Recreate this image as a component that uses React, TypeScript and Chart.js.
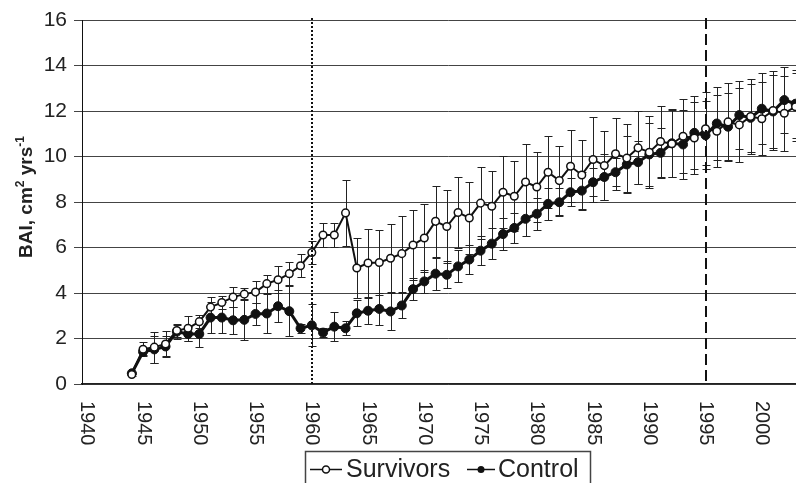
import React, { useEffect, useRef } from "react";
import { Chart, registerables } from "chart.js";
Chart.register(...registerables);

const years = [
  1944, 1945, 1946, 1947, 1948, 1949, 1950, 1951, 1952, 1953,
  1954, 1955, 1956, 1957, 1958, 1959, 1960, 1961, 1962, 1963,
  1964, 1965, 1966, 1967, 1968, 1969, 1970, 1971, 1972, 1973,
  1974, 1975, 1976, 1977, 1978, 1979, 1980, 1981, 1982, 1983,
  1984, 1985, 1986, 1987, 1988, 1989, 1990, 1991, 1992, 1993,
  1994, 1995, 1996, 1997, 1998, 1999, 2000, 2001, 2002, 2003,
];

const survivors = [
  0.42, 1.53, 1.62, 1.76, 2.35, 2.45, 2.74, 3.38, 3.58, 3.82,
  3.95, 4.04, 4.41, 4.58, 4.85, 5.2, 5.78, 6.55, 6.55, 7.52,
  5.1, 5.32, 5.34, 5.53, 5.73, 6.11, 6.42, 7.15, 6.92, 7.54,
  7.3, 7.95, 7.81, 8.43, 8.25, 8.88, 8.66, 9.31, 8.94, 9.57,
  9.19, 9.87, 9.6, 10.12, 9.93, 10.38, 10.19, 10.66, 10.56, 10.89,
  10.81, 11.22, 11.11, 11.52, 11.39, 11.76, 11.66, 12.02, 11.9, 12.19,
];

const survivorsErr = [
  0.05, 0.3, 0.68, 0.55, 0.3, 0.55, 0.3, 0.44, 0.3, 0.45,
  0.25, 0.5, 0.4, 0.6, 0.5, 0.5, 0.52, 0.53, 0.53, 1.44,
  1.33, 1.5, 1.42, 1.5, 1.67, 1.56, 1.5, 1.57, 1.6, 1.58,
  1.57, 1.57, 1.56, 1.58, 1.54, 1.65, 1.53, 1.59, 1.52, 1.59,
  1.53, 1.85, 1.51, 1.58, 1.49, 1.6, 1.59, 1.56, 1.48, 1.62,
  1.58, 1.61, 1.58, 1.69, 1.61, 1.64, 1.61, 1.72, 1.66, 1.5,
];

const control = [
  0.47, 1.42, 1.52, 1.65, 2.3, 2.2, 2.2, 2.92, 2.92, 2.8,
  2.82, 3.08, 3.1, 3.42, 3.2, 2.45, 2.58, 2.26, 2.52, 2.45,
  3.11, 3.22, 3.3, 3.19, 3.45, 4.17, 4.51, 4.85, 4.8, 5.17,
  5.47, 5.86, 6.17, 6.59, 6.86, 7.26, 7.48, 7.92, 7.99, 8.43,
  8.5, 8.87, 9.1, 9.31, 9.65, 9.75, 10.09, 10.16, 10.58, 10.53,
  11.04, 10.93, 11.45, 11.31, 11.82, 11.7, 12.1, 11.98, 12.48, 12.32,
];

const controlErr = [
  0.05, 0.15, 0.6, 0.47, 0.3, 0.31, 0.56, 0.7, 0.7, 0.6,
  0.9, 0.5, 0.85, 0.7, 1.1, 0.2, 0.92, 0.2, 0.63, 0.3,
  0.58, 0.58, 0.7, 0.8, 0.53, 0.49, 0.5, 0.7, 0.6, 0.7,
  0.65, 0.65, 0.68, 0.7, 0.66, 0.74, 0.7, 0.7, 0.62, 0.62,
  0.8, 0.62, 1.0, 0.62, 1.25, 0.94, 1.4, 1.1, 1.5, 1.5,
  1.6, 1.5, 1.6, 1.5, 1.5, 1.5, 1.55, 1.6, 1.45, 1.5,
];

const xTickLabels = ["1940", "1945", "1950", "1955", "1960", "1965", "1970", "1975", "1980", "1985", "1990", "1995", "2000"];
const seriesNames = ["Survivors", "Control"];
const dottedYear = 1960;
const dashedYear = 1995;
const yMin = 0;
const yMax = 16;
const yStep = 2;

const FONT = "'Liberation Sans', Arial, sans-serif";
const CANVAS_W = 820;
const CANVAS_H = 483;
const X_MIN = 1939.573;
const PX_PER_YEAR = 11.25;
const AREA_W = 732.5; // chart-area width for this canvas
const X_MAX = X_MIN + AREA_W / PX_PER_YEAR;

export default function App() {
  const ref = useRef<HTMLCanvasElement>(null);

  useEffect(() => {
    const canvas = ref.current;
    if (!canvas) return;

    const errorBars = {
      id: "errorBars",
      beforeDatasetsDraw(chart: any) {
        const ctx = chart.ctx;
        const ys = chart.scales.y;
        const errs = [survivorsErr, controlErr];
        ctx.save();
        ctx.strokeStyle = "#222";
        ctx.lineWidth = 1;
        chart.data.datasets.forEach((ds: any, i: number) => {
          const meta = chart.getDatasetMeta(i);
          meta.data.forEach((pt: any, j: number) => {
            const v = ds.data[j].y;
            const e = errs[i][j];
            const px = Math.round(pt.x) + 0.5;
            const top = Math.round(ys.getPixelForValue(v + e)) + 0.5;
            const bot = Math.round(ys.getPixelForValue(v - e)) + 0.5;
            ctx.beginPath();
            ctx.moveTo(px, top);
            ctx.lineTo(px, bot);
            ctx.moveTo(px - 4, top);
            ctx.lineTo(px + 4, top);
            ctx.moveTo(px - 4, bot);
            ctx.lineTo(px + 4, bot);
            ctx.stroke();
          });
        });
        ctx.restore();
      },
    };

    const overlay = {
      id: "overlay",
      afterDatasetsDraw(chart: any) {
        const ctx = chart.ctx;
        const xs = chart.scales.x;
        const area = chart.chartArea;
        ctx.save();
        ctx.strokeStyle = "#111";
        ctx.lineWidth = 2;
        ctx.setLineDash([2, 2]);
        const xd = Math.round(xs.getPixelForValue(dottedYear));
        ctx.beginPath();
        ctx.moveTo(xd, area.top - 2);
        ctx.lineTo(xd, area.bottom);
        ctx.stroke();
        ctx.setLineDash([11, 5]);
        const xh = Math.round(xs.getPixelForValue(dashedYear));
        ctx.beginPath();
        ctx.moveTo(xh, area.top - 2);
        ctx.lineTo(xh, area.bottom);
        ctx.stroke();
        ctx.restore();
      },
      afterDraw(chart: any) {
        const ctx = chart.ctx;
        const xs = chart.scales.x;
        const area = chart.chartArea;
        ctx.save();
        // x tick labels rotated clockwise
        ctx.fillStyle = "#222";
        ctx.font = `20px ${FONT}`;
        ctx.textAlign = "left";
        ctx.textBaseline = "middle";
        xTickLabels.forEach((lab) => {
          const px = xs.getPixelForValue(Number(lab));
          ctx.save();
          ctx.translate(px, area.bottom + 17);
          ctx.rotate(Math.PI / 2);
          ctx.fillText(lab, 0, 0);
          ctx.restore();
        });

        // y axis title with superscripts
        const parts = [
          { t: "BAI, cm", sup: false },
          { t: "2", sup: true },
          { t: " yrs", sup: false },
          { t: "-1", sup: true },
        ];
        const mainFont = `bold 19px ${FONT}`;
        const supFont = `bold 12px ${FONT}`;
        let total = 0;
        parts.forEach((p) => {
          ctx.font = p.sup ? supFont : mainFont;
          total += ctx.measureText(p.t).width;
        });
        ctx.save();
        ctx.translate(32, (area.top + area.bottom) / 2 - 5);
        ctx.rotate(-Math.PI / 2);
        ctx.textAlign = "left";
        ctx.textBaseline = "alphabetic";
        ctx.fillStyle = "#222";
        let cx = -total / 2;
        parts.forEach((p) => {
          ctx.font = p.sup ? supFont : mainFont;
          ctx.fillText(p.t, cx, p.sup ? -8 : 0);
          cx += ctx.measureText(p.t).width;
        });
        ctx.restore();

        // legend
        ctx.strokeStyle = "#444";
        ctx.lineWidth = 1.5;
        ctx.fillStyle = "#fff";
        ctx.fillRect(305, 451, 285, 60);
        ctx.strokeRect(305.5, 451.5, 285, 60);
        const ly = 469.5;
        ctx.strokeStyle = "#111";
        ctx.lineWidth = 1.5;
        ctx.beginPath();
        ctx.moveTo(310, ly);
        ctx.lineTo(342, ly);
        ctx.stroke();
        ctx.beginPath();
        ctx.arc(326, ly, 3.5, 0, Math.PI * 2);
        ctx.fillStyle = "#fff";
        ctx.fill();
        ctx.stroke();
        ctx.beginPath();
        ctx.moveTo(467, ly);
        ctx.lineTo(495, ly);
        ctx.stroke();
        ctx.beginPath();
        ctx.arc(481, ly, 3.5, 0, Math.PI * 2);
        ctx.fillStyle = "#111";
        ctx.fill();
        ctx.fillStyle = "#222";
        ctx.font = `25px ${FONT}`;
        ctx.textAlign = "left";
        ctx.textBaseline = "alphabetic";
        ctx.fillText(seriesNames[0], 346, 477);
        ctx.fillText(seriesNames[1], 498, 477);
        ctx.restore();
      },
    };

    const chart = new Chart(canvas, {
      type: "line",
      data: {
        datasets: [
          {
            label: seriesNames[0],
            data: years.map((yr, i) => ({ x: yr, y: survivors[i] })),
            borderColor: "#111",
            borderWidth: 2,
            pointRadius: 3.8,
            pointBackgroundColor: "#fff",
            pointBorderColor: "#111",
            pointBorderWidth: 1.5,
            tension: 0,
          },
          {
            label: seriesNames[1],
            data: years.map((yr, i) => ({ x: yr, y: control[i] })),
            borderColor: "#111",
            borderWidth: 3,
            pointRadius: 4.5,
            pointBackgroundColor: "#111",
            pointBorderColor: "#111",
            pointBorderWidth: 1,
            tension: 0,
          },
        ],
      },
      options: {
        animation: false,
        responsive: false,
        maintainAspectRatio: false,
        devicePixelRatio: 1,
        layout: { padding: { top: 20, left: 0, right: 0, bottom: 0 } },
        plugins: {
          legend: { display: false },
          tooltip: { enabled: false },
        },
        scales: {
          x: {
            type: "linear",
            min: X_MIN,
            max: X_MAX,
            ticks: { display: false },
            grid: { display: false },
            border: { display: true, color: "#222", width: 1.5 },
            afterFit: (scale: any) => {
              scale.height = 99;
            },
          },
          y: {
            min: yMin,
            max: yMax,
            ticks: {
              stepSize: yStep,
              color: "#222",
              padding: 7,
              font: { family: FONT, size: 21 },
            },
            grid: { color: "#444", lineWidth: 1, tickLength: 8, drawTicks: true },
            border: { display: true, color: "#111", width: 1 },
            afterFit: (scale: any) => {
              scale.width = 82;
            },
          },
        },
      },
      plugins: [errorBars, overlay],
    } as any);

    return () => chart.destroy();
  }, []);

  return (
    <div style={{ position: "fixed", left: 0, top: 0, width: 796, height: 483, overflow: "hidden", background: "#fff" }}>
      <canvas ref={ref} width={CANVAS_W} height={CANVAS_H} style={{ width: CANVAS_W, height: CANVAS_H, display: "block" }} />
    </div>
  );
}
